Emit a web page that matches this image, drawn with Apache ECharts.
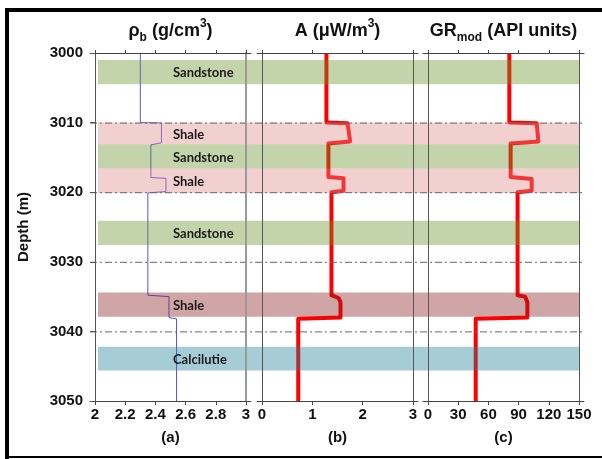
<!DOCTYPE html>
<html><head><meta charset="utf-8">
<style>html,body{margin:0;padding:0;background:#fff}#c{width:602px;height:459px}</style>
<script src="https://cdn.jsdelivr.net/npm/echarts@6/dist/echarts.min.js"></script>
</head><body><div id="c"></div>
<script>
// ---------------- data ----------------
const depthMin = 3000, depthMax = 3050, depthStep = 10;
const dashDepths = [3010, 3020, 3030, 3040];
const densityRange = [2, 3, 0.2];
const heatRange = [0, 3, 1];
const grRange = [0, 150, 30];
// bulk density rho_b (g/cm3) vs depth (m)
const densityDepth = [3000, 3010, 3010.05, 3012.9, 3013.2, 3017.9, 3018.0, 3019.9, 3020.1, 3034.8, 3035.0, 3038.0, 3038.2, 3050];
const densityValue = [2.30, 2.30, 2.44, 2.44, 2.37, 2.37, 2.47, 2.47, 2.35, 2.35, 2.49, 2.49, 2.54, 2.54];
// radiogenic heat production A (uW/m3)
const heatDepth = [3000, 3010, 3010.1, 3012.7, 3013.0, 3017.8, 3018.0, 3019.8, 3020.0, 3034.8, 3035.2, 3035.8, 3038.0, 3038.2, 3050];
const heatValue = [1.28, 1.28, 1.70, 1.75, 1.32, 1.32, 1.62, 1.62, 1.38, 1.38, 1.52, 1.56, 1.56, 0.72, 0.72];
// GR_mod (API units)
const grDepth = [3000, 3010, 3010.1, 3012.7, 3013.0, 3017.8, 3018.1, 3019.8, 3020.0, 3034.8, 3035.0, 3035.8, 3038.0, 3038.2, 3050];
const grValue = [80.8, 80.8, 108, 109.6, 82.1, 82.1, 103, 103, 89, 89, 96.4, 98.7, 98.7, 47.4, 47.4];
// lithology bands
const bandNames = ['Sandstone', 'Shale', 'Sandstone', 'Shale', 'Sandstone', 'Shale', 'Calcilutie'];
const bandTop = [3001, 3010, 3013.1, 3016.6, 3024.1, 3034.4, 3042.2];
const bandBottom = [3004.5, 3013.1, 3016.6, 3020.1, 3027.6, 3037.9, 3045.6];

// ---------------- style ----------------
const GREEN = 'rgba(108,148,43,0.4)', PINK = 'rgba(222,138,138,0.4)',
      DARK = 'rgba(138,30,30,0.4)', BLUE = 'rgba(33,128,153,0.4)';
const bandFill = [GREEN, PINK, GREEN, PINK, GREEN, DARK, BLUE];
const FONT = 'Liberation Sans, Arial, sans-serif';
const panels = [
  {left: 95, range: densityRange, sub: '(a)', title: '{m|ρ}{sub|b}{m| (g/cm}{sup|3}{m|)}', right: '#9a9a9a', rightW: 2},
  {left: 262, range: heatRange, sub: '(b)', title: '{m|A (μW/m}{sup|3}{m|)}', right: '#555', rightW: 1},
  {left: 428, range: grRange, sub: '(c)', title: '{m|GR}{sub|mod}{m| (API units)}', right: '#555', rightW: 1}
];
const PW = 151, TOP = 53, H = 348;
const rich = {
  m: {fontSize: 18, fontWeight: 'bold', fontFamily: FONT, color: '#111', lineHeight: 26},
  sub: {fontSize: 12, fontWeight: 'bold', fontFamily: FONT, color: '#111', lineHeight: 12, verticalAlign: 'bottom'},
  sup: {fontSize: 12, fontWeight: 'bold', fontFamily: FONT, color: '#111', lineHeight: 12, verticalAlign: 'top'}
};
const plain = v => String(v);

const grid = [], xAxis = [], yAxis = [];
panels.forEach(p => grid.push({left: p.left, top: TOP, width: PW, height: H}));
panels.forEach(p => grid.push({left: p.left - 5, top: TOP, width: PW + 10, height: H}));
grid.push({left: 98, top: TOP, width: 481, height: H});   // bands
grid.push({left: 90, top: TOP, width: 493, height: H});   // dash lines

panels.forEach((p, i) => {
  xAxis.push({
    gridIndex: i, type: 'value', position: 'bottom', min: p.range[0], max: p.range[1], interval: p.range[2], z: 10,
    axisLine: {show: false, onZero: false}, splitLine: {show: false},
    axisTick: {show: true, length: 4, lineStyle: {color: '#444'}},
    axisLabel: {margin: 6, fontSize: 15, fontWeight: 'bold', fontFamily: FONT, color: '#111', formatter: plain},
    name: p.sub, nameLocation: 'middle', nameGap: 29,
    nameTextStyle: {fontSize: 15, fontWeight: 'bold', fontFamily: FONT, color: '#111'}
  });
  xAxis.push({
    gridIndex: i, type: 'value', position: 'top', min: p.range[0], max: p.range[1], interval: p.range[2], z: 10,
    axisLine: {show: false, onZero: false}, splitLine: {show: false},
    axisTick: {show: true, length: 3, lineStyle: {color: '#444'}},
    axisLabel: {show: false},
    name: p.title, nameLocation: 'middle', nameGap: 9,
    nameTextStyle: {rich: rich}
  });
});
panels.forEach((p, i) => {
  ['bottom', 'top'].forEach(pos => xAxis.push({
    gridIndex: 3 + i, type: 'value', position: pos, min: 0, max: 1, z: 10,
    axisLine: {show: true, onZero: false, lineStyle: {color: '#444', width: 1}},
    axisTick: {show: false}, axisLabel: {show: false}, splitLine: {show: false}
  }));
});
xAxis.push({gridIndex: 6, type: 'value', min: 0, max: 1, show: false});
xAxis.push({gridIndex: 7, type: 'value', min: 0, max: 1, show: false});

panels.forEach((p, i) => {
  yAxis.push({
    gridIndex: i, type: 'value', inverse: true, min: depthMin, max: depthMax, interval: depthStep, z: 10,
    axisLine: {show: true, onZero: false, lineStyle: {color: '#555'}},
    axisTick: {show: i === 0, length: 5, lineStyle: {color: '#555'}},
    axisLabel: {show: i === 0, margin: 12, fontSize: 15, fontWeight: 'bold', fontFamily: FONT, color: '#111', formatter: plain},
    splitLine: {show: false},
    name: i === 0 ? 'Depth (m)' : '', nameLocation: 'middle', nameGap: 64,
    nameTextStyle: {fontSize: 15, fontWeight: 'bold', fontFamily: FONT, color: '#111'}
  });
  yAxis.push({
    gridIndex: i, type: 'value', position: 'right', inverse: true, min: depthMin, max: depthMax, interval: depthStep, z: 10,
    axisLine: {show: true, onZero: false, lineStyle: {color: p.right, width: p.rightW}},
    axisTick: {show: false}, axisLabel: {show: false}, splitLine: {show: false}
  });
});
panels.forEach((p, i) => yAxis.push({gridIndex: 3 + i, type: 'value', min: 0, max: 1, show: false}));
yAxis.push({gridIndex: 6, type: 'value', inverse: true, min: depthMin, max: depthMax, show: false});
yAxis.push({gridIndex: 7, type: 'value', inverse: true, min: depthMin, max: depthMax, show: false});

const pairs = (vals, depths) => depths.map((d, i) => [vals[i], d]);
const lineSeries = (xi, yi, data, color, width) => ({
  type: 'line', xAxisIndex: xi, yAxisIndex: yi, data: data, showSymbol: false, symbol: 'none',
  lineStyle: {color: color, width: width, join: 'round', cap: 'butt'}, z: 2, silent: true
});

const series = [
  lineSeries(0, 0, pairs(densityValue, densityDepth), '#5a50dc', 1),
  lineSeries(2, 2, pairs(heatValue, heatDepth), '#ff0000', 4),
  lineSeries(4, 4, pairs(grValue, grDepth), '#ff0000', 4),
  {
    type: 'custom', xAxisIndex: 12, yAxisIndex: 9, z: 3, silent: true,
    data: bandTop.map((t, i) => [t, bandBottom[i]]),
    encode: {y: [0, 1]},
    renderItem: (params, api) => {
      const i = params.dataIndex;
      const a = api.coord([0, api.value(0)]);
      const b = api.coord([1, api.value(1)]);
      return {type: 'group', children: [
        {type: 'rect', shape: {x: a[0], y: a[1], width: b[0] - a[0], height: b[1] - a[1]}, style: {fill: bandFill[i]}},
        {type: 'text', z2: 20, style: {text: bandNames[i], x: a[0] + 75, y: (a[1] + b[1]) / 2 + 1,
          align: 'left', verticalAlign: 'middle', font: 'bold 13px Lato, sans-serif', fill: '#1a1a1a'}}
      ]};
    }
  },
  {
    type: 'custom', xAxisIndex: 13, yAxisIndex: 10, z: 4, silent: true,
    data: dashDepths.map(d => [d]),
    encode: {y: 0},
    renderItem: (params, api) => {
      const a = api.coord([0, api.value(0)]);
      const b = api.coord([1, api.value(0)]);
      return {type: 'line', shape: {x1: a[0], y1: a[1] + 0.5, x2: b[0], y2: b[1] + 0.5},
        style: {stroke: '#666', lineWidth: 1, lineDash: [7, 3, 2, 3]}};
    }
  }
];

const chart = echarts.init(document.getElementById('c'), null, {renderer: 'canvas'});
chart.setOption({
  animation: false,
  backgroundColor: '#fff',
  grid, xAxis, yAxis, series,
  graphic: [
    {type: 'rect', shape: {x: 5, y: 8, width: 600, height: 4}, style: {fill: '#000'}, z: 100},
    {type: 'rect', shape: {x: 5, y: 8, width: 4, height: 460}, style: {fill: '#000'}, z: 100},
    {type: 'rect', shape: {x: 5, y: 456, width: 600, height: 2}, style: {fill: '#000'}, z: 100}
  ]
});
</script></body></html>
